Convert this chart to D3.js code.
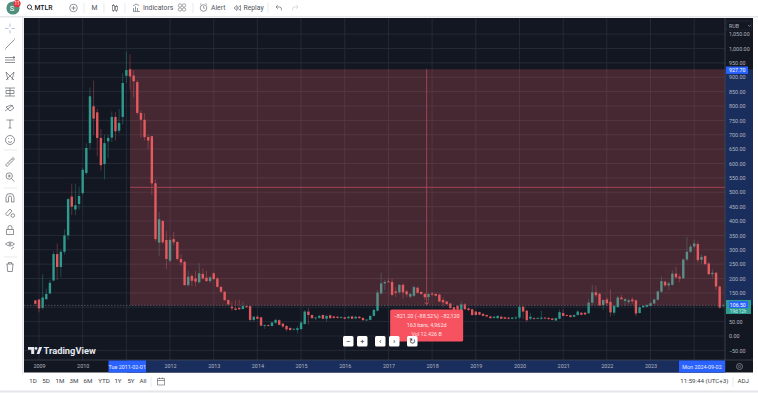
<!DOCTYPE html>
<html lang="en">
<head>
<meta charset="utf-8">
<title>MTLR monthly chart</title>
<script src="https://d3js.org/d3.v7.min.js"></script>
<style>
    html, body { margin: 0; padding: 0; background: #fff; overflow: hidden; }
    svg { display: block; font-family: Roboto, sans-serif; }
    .axis path, .axis line { display: none; }
</style>
</head>
<body>
<svg id="chart" width="758" height="393"></svg>

<script>
// month index 0 = Jan 2009, the first candle is Dec 2008
var firstMonth = -1;

var opens = [124,
    127,98,128,148,193,285,240,293,350,485,440,459,
    497,567,671,799,778,689,598,677,690,762,714,762,
    905,927.7,906,883,776,752,692,695,531,325,400,334,
    262,337,327,268,258,177,209,200,187,216,203,191,
    218,200,171,154,125,102,96,98,94,104,104,56,
    67,65,35,38,35,46,55,43,35,28,22,21,
    24,42,85,73,62,63,73,60,72,68,67,63,
    65,62,68,61,67,63,55,56,70,88,148,183,
    190,188,155,152,178,155,137,140,168,153,146,135,
    148,146,144,125,120,113,100,105,90,110,96,93,
    85,83,77,73,68,63,62,67,65,64,60,61,
    64,102,88,60,62,60,60,64,63,61,54,60,
    80,73,72,67,73,81,81,79,116,152,147,108,
    127,119,81,101,134,122,118,127,124,80,100,102,
    105,113,126,154,189,176,178,217,206,201,266,293,
    311,320,265,278,252,215,220,172,105];

var highs = [125,
    127,215,165,195,295,322,300,371,480,530,530,520,
    585,670,865,889,790,720,700,700,781,780,790,915,
    988,980,925,890,785,775,700,695,545,432,405,366,
    345,363,330,285,262,227,215,227,253,235,227,208,
    222,205,172,157,127,119,125,126,119,107,106,70,
    72,67,40,40,49,60,58,45,38,30,27,35,
    52,90,98,75,68,74,75,72,75,70,70,69,
    67,70,70,70,70,65,59,72,93,160,220,195,
    200,200,170,180,183,160,150,175,172,157,150,150,
    152,150,148,135,122,115,102,108,122,115,100,95,
    87,85,80,75,70,70,72,70,67,66,66,70,
    107,105,90,80,65,65,88,66,65,63,64,92,
    93,75,74,75,90,83,83,128,177,175,150,128,
    135,162,108,140,143,133,128,135,127,103,108,110,
    118,130,158,208,192,190,229,241,215,270,345,320,
    335,328,285,282,258,232,222,175,112];

var lows = [105,
    82,92,125,145,190,195,205,283,335,421,420,440,
    490,560,650,700,625,575,545,620,675,680,705,735,
    880,857,830,770,690,680,650,490,330,278,320,232,
    255,315,262,245,175,171,174,172,182,197,188,185,
    195,168,150,122,108,87,88,90,92,98,50,50,
    57,33,25,33,33,42,37,28,16,17,20,8,
    21,40,40,60,55,60,58,50,60,60,60,61,
    58,58,58,58,60,53,52,54,68,85,145,160,
    185,138,135,145,130,135,130,135,147,143,125,120,
    140,138,118,100,108,95,85,90,85,90,88,70,
    72,72,68,65,60,60,60,58,58,58,58,58,
    60,60,48,55,55,58,55,58,55,54,52,58,
    68,68,64,65,70,72,73,77,105,135,103,90,
    105,67,72,98,125,105,110,112,68,78,97,100,
    103,112,124,150,170,160,175,200,187,198,260,288,
    305,255,250,245,212,200,160,95,100];

var closes = [112,
    96,134,146,185,285,240,293,350,476,450,455,487,
    578,654,834,756,689,594,671,689,762,712,741,880,
    925,903,886,776,752,692,680,531,337,406,326,268,
    334,326,268,256,177,206,192,189,218,200,191,204,
    198,171,154,125,110,96,91,93,104,100,56,67,
    60,36,38,35,47,56,39,33,23,21,25,27,
    47,85,73,62,64,70,60,70,62,63,63,66,
    60,67,60,67,62,55,57,70,91,151,183,188,
    187,143,150,178,152,145,146,170,150,146,135,146,
    144,140,120,117,111,97,90,92,110,93,90,73,
    73,74,70,68,62,67,70,60,60,60,64,64,
    102,85,55,67,60,63,64,61,59,56,62,83,
    70,70,66,73,85,74,75,116,152,142,107,125,
    114,82,105,134,128,128,124,121,78,100,105,108,
    114,127,155,191,176,183,217,204,200,266,293,311,
    322,264,275,250,215,220,172,99,106.5];

var years = [2009,2010,2011,2012,2013,2014,2015,2016,2017,2018,2019,2020,2021,2022,2023,2024];
var yearLabels = [2009,2010,2012,2013,2014,2015,2016,2017,2018,2019,2020,2021,2022,2023];
var priceTicks = [1050,1000,950,900,850,800,750,700,650,600,550,500,450,400,350,300,250,200,150,100,50,0,-50];
var priceLabels = [1050,1000,950,900,850,800,750,700,650,600,550,500,450,400,350,300,250,200,150,50,0,-50];

// the measured range
var rangeStartMonth = 25, rangeEndMonth = 188;
var rangeTop = 927.70, rangeBottom = 106.50;
var rangeLines = ["\u2212821.20 (\u221288.52%) \u221282,120", "163 bars, 4,962d", "Vol 12.426 B"];

var timeframes = ["1D","5D","1M","3M","6M","YTD","1Y","5Y","All"];

var green = "#2f9a8e", red = "#df585b", greyIcon = "#55585f";
var plot = {left: 24, right: 725, top: 18, bottom: 360, edge: 753, end: 372.5};

var svg = d3.select("#chart");

// scales: the time axis is by bar number, not by calendar
var x = d3.scaleLinear().domain([0, 180]).range([39, 694.2]);
var y = d3.scaleLinear().domain([0, 1000]).range([336, 48.5]);

// background
svg.append("rect").attr("x", plot.left).attr("y", plot.top)
    .attr("width", plot.edge - plot.left).attr("height", plot.end - plot.top).attr("fill", "#131722");
svg.append("rect").attr("x", 0).attr("y", 16).attr("width", 758).attr("height", 1.5).attr("fill", "#e4e5e8");
svg.append("rect").attr("x", 22).attr("y", 17).attr("width", 1.5).attr("height", 357).attr("fill", "#e4e5e8");
svg.append("rect").attr("x", 0).attr("y", 390.5).attr("width", 758).attr("height", 2).attr("fill", "#e4e5e8");

// grid
var yearMonth = function(yr) { return (yr - 2009) * 12; };
svg.append("g").selectAll("line").data(priceTicks).join("line")
    .attr("x1", plot.left).attr("x2", plot.right)
    .attr("y1", function(d) { return y(d); }).attr("y2", function(d) { return y(d); })
    .attr("stroke", "#2a2e3b").attr("stroke-width", 0.8);
svg.append("g").selectAll("line").data(years).join("line")
    .attr("x1", function(d) { return x(yearMonth(d)); }).attr("x2", function(d) { return x(yearMonth(d)); })
    .attr("y1", plot.top).attr("y2", plot.bottom)
    .attr("stroke", "#2a2e3b").attr("stroke-width", 0.8);

// candles
var candles = opens.map(function(o, i) {
    return {m: firstMonth + i, o: o, h: highs[i], l: lows[i], c: closes[i]};
});
var clip = svg.append("clipPath").attr("id", "plotClip");
clip.append("rect").attr("x", plot.left).attr("y", plot.top)
    .attr("width", plot.right - plot.left).attr("height", plot.bottom - plot.top);

var candleG = svg.append("g").attr("clip-path", "url(#plotClip)");
candleG.selectAll("line").data(candles).join("line")
    .attr("x1", function(d) { return x(d.m); }).attr("x2", function(d) { return x(d.m); })
    .attr("y1", function(d) { return y(d.h); }).attr("y2", function(d) { return y(d.l); })
    .attr("stroke", function(d) { return d.c >= d.o ? green : red; })
    .attr("stroke-width", 0.7).attr("stroke-opacity", 0.55);
candleG.selectAll("rect").data(candles).join("rect")
    .attr("x", function(d) { return x(d.m) - 1.2; })
    .attr("width", 2.4)
    .attr("y", function(d) { return y(Math.max(d.o, d.c)); })
    .attr("height", function(d) { return Math.max(0.8, Math.abs(y(d.o) - y(d.c))); })
    .attr("fill", function(d) { return d.c >= d.o ? green : red; });

// last price dashed line
svg.append("line").attr("x1", plot.left).attr("x2", plot.right)
    .attr("y1", y(rangeBottom)).attr("y2", y(rangeBottom))
    .attr("stroke", "#6f7480").attr("stroke-width", 0.6).attr("stroke-dasharray", "1.5,1.5");

// measured range overlay
var rx0 = x(rangeStartMonth), rx1 = plot.right;
var ryTop = y(rangeTop), ryBot = y(rangeBottom);
var midX = (x(rangeStartMonth) + x(rangeEndMonth)) / 2;
var midY = y((rangeTop + rangeBottom) / 2);
svg.append("rect").attr("x", rx0).attr("y", ryTop).attr("width", rx1 - rx0).attr("height", ryBot - ryTop)
    .attr("fill", "rgb(244,100,110)").attr("fill-opacity", 0.23);
svg.append("line").attr("x1", rx0).attr("x2", rx1).attr("y1", midY).attr("y2", midY)
    .attr("stroke", "#b84a58").attr("stroke-width", 0.8);
svg.append("line").attr("x1", midX).attr("x2", midX).attr("y1", ryTop).attr("y2", ryBot)
    .attr("stroke", "#b84a58").attr("stroke-width", 0.8);
svg.append("path").attr("d", d3.line()([[midX - 2, ryBot - 3], [midX, ryBot - 1], [midX + 2, ryBot - 3]]))
    .attr("fill", "none").attr("stroke", "#d65864").attr("stroke-width", 0.8);

// price axis
svg.append("rect").attr("x", plot.right).attr("y", ryTop).attr("width", plot.edge - plot.right).attr("height", ryBot - ryTop)
    .attr("fill", "#1a2e5e");
var yAxis = d3.axisRight(y).tickValues(priceLabels).tickSize(0).tickPadding(4)
    .tickFormat(d3.format(",.2f"));
svg.append("g").attr("class", "axis").attr("transform", "translate(" + plot.right + ",0)").call(yAxis)
    .selectAll("text").attr("fill", "#b2b5be").attr("font-size", 5.4).attr("font-family", "Roboto");
svg.append("line").attr("x1", plot.right).attr("x2", plot.right).attr("y1", plot.top).attr("y2", plot.end)
    .attr("stroke", "#434651").attr("stroke-width", 0.8);

// time axis
svg.append("rect").attr("x", x(rangeStartMonth) - 3).attr("y", plot.bottom)
    .attr("width", x(rangeEndMonth) - x(rangeStartMonth) + 3).attr("height", plot.end - plot.bottom).attr("fill", "#1a2e5e");
var xAxis = d3.axisBottom(x).tickValues(yearLabels.map(yearMonth)).tickSize(0).tickPadding(4)
    .tickFormat(function(d) { return 2009 + d / 12; });
svg.append("g").attr("class", "axis").attr("transform", "translate(0," + plot.bottom + ")").call(xAxis)
    .selectAll("text").attr("fill", "#b2b5be").attr("font-size", 5.4).attr("font-family", "Roboto");
svg.append("line").attr("x1", plot.left).attr("x2", plot.edge).attr("y1", plot.bottom).attr("y2", plot.bottom)
    .attr("stroke", "#434651").attr("stroke-width", 0.8);

function addText(sel, tx, ty, str, size, color, anchor, weight) {
    return sel.append("text").attr("x", tx).attr("y", ty).text(str)
        .attr("font-size", size).attr("fill", color)
        .attr("text-anchor", anchor || "start").attr("font-weight", weight || 400);
}

// blue date labels
[[108.5, 37.5, "Tue 2011-02-01"], [679, 46, "Mon 2024-09-02"]].forEach(function(t) {
    svg.append("rect").attr("x", t[0]).attr("y", plot.bottom + 0.5).attr("width", t[1]).attr("height", plot.end - plot.bottom - 0.5).attr("fill", "#2962ff");
    addText(svg, t[0] + t[1] / 2, plot.bottom + 8.5, t[2], 5.4, "#e8ecf8", "middle");
});

// price labels
svg.append("rect").attr("x", plot.right + 1).attr("y", ryTop - 2.8).attr("width", 22).attr("height", 7.4).attr("fill", "#2962ff");
addText(svg, plot.right + 4, ryTop + 2.8, "927.70", 5.4, "#ffffff");
svg.append("rect").attr("x", plot.right + 1).attr("y", ryBot - 5.4).attr("width", 25).attr("height", 14).attr("fill", "#2b9c8f");
svg.append("rect").attr("x", plot.right + 4).attr("y", ryBot - 4.2).attr("width", 19).attr("height", 6.8).attr("fill", "#2962ff");
addText(svg, plot.right + 4.8, ryBot + 1.2, "106.50", 5.2, "#ffffff");
addText(svg, plot.right + 4.8, ryBot + 7.6, "19d 12h", 4.6, "#d6efeb");

// currency box and settings
svg.append("rect").attr("x", 726.5).attr("y", 21).attr("width", 25).attr("height", 9).attr("fill", "#131722").attr("stroke", "#2a2e39").attr("stroke-width", 0.6);
addText(svg, 729, 27.8, "RUB", 5.4, "#b2b5be");
svg.append("path").attr("d", "M748,25 l1.4,1.4 l1.4,-1.4").attr("fill", "none").attr("stroke", "#b2b5be").attr("stroke-width", 0.6);
svg.append("circle").attr("cx", 739.5).attr("cy", 366.5).attr("r", 3).attr("fill", "none").attr("stroke", "#9598a1").attr("stroke-width", 0.7);
svg.append("circle").attr("cx", 739.5).attr("cy", 366.5).attr("r", 1.1).attr("fill", "none").attr("stroke", "#9598a1").attr("stroke-width", 0.6);

// tooltip box
var tip = svg.append("g");
tip.append("rect").attr("x", midX - 36.5).attr("y", ryBot + 4).attr("width", 73).attr("height", 32).attr("rx", 1.5).attr("fill", "#f7525f");
rangeLines.forEach(function(t, i) {
    addText(tip, midX, ryBot + 12.5 + i * 9, t, 5.4, "#ffe5e7", "middle");
});

// zoom and scroll buttons
[[343, "\u2212"], [357, "+"], [375, "\u2039"], [389, "\u203A"], [407, "\u21BB"]].forEach(function(b) {
    svg.append("rect").attr("x", b[0]).attr("y", 336).attr("width", 10.5).attr("height", 10.5).attr("rx", 1.5).attr("fill", "#ffffff");
    addText(svg, b[0] + 5.2, 344, b[1], 8, "#2a2e39", "middle");
});

// logo
var logo = svg.append("g").attr("fill", "#e6e8ee");
logo.append("path").attr("d", "M28,347 h6.2 v7 h-3 v-4.2 h-3.2 z");
logo.append("circle").attr("cx", 36).attr("cy", 348.4).attr("r", 1.4);
logo.append("path").attr("d", "M36.6,354 l2.6,-7 h3 l-2.8,7 z");
addText(svg, 43.5, 354.3, "TradingView", 9.3, "#e6e8ee", "start", 700);

// top toolbar
var topBar = svg.append("g");
topBar.append("circle").attr("cx", 13).attr("cy", 8).attr("r", 6.6).attr("fill", "#4f8f7c");
addText(topBar, 12, 10.7, "S", 7.5, "#ffffff", "middle");
topBar.append("circle").attr("cx", 17).attr("cy", 3.6).attr("r", 3.6).attr("fill", "#e2333f");
addText(topBar, 17, 5.3, "11", 4.6, "#ffffff", "middle");
topBar.append("circle").attr("cx", 29.5).attr("cy", 7).attr("r", 2.1).attr("fill", "none").attr("stroke", "#131722").attr("stroke-width", 0.8);
topBar.append("path").attr("d", "M31,8.6 l1.8,1.8").attr("stroke", "#131722").attr("stroke-width", 0.8);
addText(topBar, 34.5, 10.3, "MTLR", 6.8, "#131722", "start", 500);
topBar.append("circle").attr("cx", 73.5).attr("cy", 8).attr("r", 3.8).attr("fill", "none").attr("stroke", "#50535e").attr("stroke-width", 0.6);
topBar.append("path").attr("d", "M71.5,8 h4 M73.5,6 v4").attr("stroke", "#50535e").attr("stroke-width", 0.6);
addText(topBar, 94.5, 10.3, "M", 6.8, "#50535e", "middle");
topBar.append("path").attr("d", "M113.5,4 v8 M116.5,5 v7").attr("stroke", "#50535e").attr("stroke-width", 0.6);
topBar.append("rect").attr("x", 112.6).attr("y", 5.5).attr("width", 1.8).attr("height", 5).attr("fill", "#fff").attr("stroke", "#50535e").attr("stroke-width", 0.6);
topBar.append("rect").attr("x", 115.6).attr("y", 6.5).attr("width", 1.8).attr("height", 4).attr("fill", "#fff").attr("stroke", "#50535e").attr("stroke-width", 0.6);
topBar.append("path").attr("d", "M133,11.5 h7 M133.5,11 v-3 M135.5,11 v-4.5 M137.5,11 v-3 M133,6 l3,-2 l3,1.5").attr("fill", "none").attr("stroke", "#50535e").attr("stroke-width", 0.6);
addText(topBar, 143, 10.3, "Indicators", 6.8, "#50535e");
[[180, 5.5], [184, 5.5], [180, 9.5], [184, 9.5]].forEach(function(c) {
    topBar.append("circle").attr("cx", c[0]).attr("cy", c[1]).attr("r", 1.7).attr("fill", "none").attr("stroke", "#50535e").attr("stroke-width", 0.5);
});
topBar.append("circle").attr("cx", 203.5).attr("cy", 8).attr("r", 3.3).attr("fill", "none").attr("stroke", "#50535e").attr("stroke-width", 0.6);
topBar.append("path").attr("d", "M200,4.5 l1.3,-1 M207,4.5 l-1.3,-1 M203.5,6 v2.2 h1.5").attr("fill", "none").attr("stroke", "#50535e").attr("stroke-width", 0.5);
addText(topBar, 211, 10.3, "Alert", 6.8, "#50535e");
topBar.append("path").attr("d", "M237,5.5 l-3,2.5 l3,2.5 z M240.5,5.5 l-3,2.5 l3,2.5 z").attr("fill", "none").attr("stroke", "#50535e").attr("stroke-width", 0.6);
addText(topBar, 243.5, 10.3, "Replay", 6.8, "#50535e");
topBar.append("path").attr("d", "M276,7 h3.5 q2,0 2,2.5 v1 M276,7 l1.8,-1.8 M276,7 l1.8,1.8").attr("fill", "none").attr("stroke", "#50535e").attr("stroke-width", 0.6);
topBar.append("path").attr("d", "M298,7 h-3.5 q-2,0 -2,2.5 v1 M298,7 l-1.8,-1.8 M298,7 l-1.8,1.8").attr("fill", "none").attr("stroke", "#c4c6cc").attr("stroke-width", 0.6);
[84, 104, 125, 193, 268].forEach(function(sx) {
    topBar.append("line").attr("x1", sx).attr("x2", sx).attr("y1", 3).attr("y2", 13).attr("stroke", "#e0e1e5").attr("stroke-width", 0.7);
});

// left toolbar, every icon is a rough outline in a 12px box
var icons = [
    [28.5, "M-5,0 h3.5 M1.5,0 h3.5 M0,-5 v3.5 M0,1.5 v3.5", "#8fa9c9"],
    [44, "M-4,4 L4,-4 M-5,5 h1 M4,-5 h1", greyIcon],
    [60, "M-5,-2.5 h10 M-5,0 h10 M-5,2.5 h10 M3,-4 l2,1.5 l-2,1", greyIcon],
    [76, "M-4,-4 L4,4 M-4,4 L4,-4 M-4,-4 L-2,4 M4,-4 L2,4", greyIcon],
    [92, "M-5,-4 h10 M-5,4 h10 M-4,1.5 h8 v-3 h-8 z M0,-4 v8", greyIcon],
    [108, "M-5,3 L3,-3 M-4,-1 l4,4 l4,-3 l-3,-3 z", greyIcon],
    [124, "M-3.5,-4 h7 M0,-4 v8 M-1.5,4 h3", greyIcon],
    [140, "M-4.5,0 a4.5,4.5 0 1,0 9,0 a4.5,4.5 0 1,0 -9,0 M-2,1.5 q2,2 4,0 M-1.8,-1.5 h.8 M1,-1.5 h.8", greyIcon],
    [162, "M-4.5,3 L3,-4.5 L4.5,-3 L-3,4.5 z M-2,0.5 l1,1 M0,-1.5 l1,1 M1.8,-3 l1,1", greyIcon],
    [177, "M-4,-1 a3.2,3.2 0 1,0 6.4,0 a3.2,3.2 0 1,0 -6.4,0 M1.6,1.8 L4.5,4.6 M-2.2,-1 h3 M-0.8,-2.5 v3", greyIcon],
    [198, "M-4,4 v-4.5 a4,4 0 0,1 8,0 v4.5 h-2.5 v-4.5 a1.5,1.5 0 0,0 -3,0 v4.5 z", greyIcon],
    [213, "M-4.5,1 L0,-4 L2,-2 L-2.5,3 z M1,2.5 a1.8,1.8 0 1,0 3.6,0 a1.8,1.8 0 1,0 -3.6,0", greyIcon],
    [230, "M-3.5,-0.5 h7 v5 h-7 z M-2,-0.5 v-2 a2,2 0 0,1 4,0 v2 M-0.3,2 h.6", greyIcon],
    [245, "M-4.5,-1 q4.5,-4 9,0 q-4.5,4 -9,0 M-1,-1 a1,1 0 1,0 2,0 a1,1 0 1,0 -2,0 M1,4 l3,-2", greyIcon],
    [267, "M-3.5,-3 h7 M-1.5,-3 v-1.5 h3 v1.5 M-3,-3 l.7,7.5 h4.6 l.7,-7.5", greyIcon]
];
var leftBar = svg.append("g");
icons.forEach(function(ic) {
    leftBar.append("path").attr("transform", "translate(10," + ic[0] + ")").attr("d", ic[1])
        .attr("fill", "none").attr("stroke", ic[2]).attr("stroke-width", 0.65);
});
[150, 188, 257].forEach(function(sy) {
    leftBar.append("line").attr("x1", 4).attr("x2", 17).attr("y1", sy).attr("y2", sy).attr("stroke", "#e0e1e5").attr("stroke-width", 0.7);
});

// bottom toolbar
[33, 46, 60, 74, 88, 104, 118, 131, 143].forEach(function(tx, i) {
    addText(svg, tx, 383.3, timeframes[i], 6.2, "#3c3f48", "middle");
});
svg.append("line").attr("x1", 151).attr("x2", 151).attr("y1", 377).attr("y2", 387).attr("stroke", "#e0e1e5").attr("stroke-width", 0.7);
svg.append("path").attr("d", "M157.5,378.5 h7 v6.5 h-7 z M157.5,380.5 h7 M159.5,377.5 v1.5 M162.5,377.5 v1.5")
    .attr("fill", "none").attr("stroke", greyIcon).attr("stroke-width", 0.6);
addText(svg, 728.5, 383.3, "11:59:44 (UTC+3)", 6.2, "#3c3f48", "end");
svg.append("line").attr("x1", 733).attr("x2", 733).attr("y1", 377).attr("y2", 387).attr("stroke", "#e0e1e5").attr("stroke-width", 0.7);
addText(svg, 737.5, 383.3, "ADJ", 6.2, "#3c3f48");
</script>
</body>
</html>
